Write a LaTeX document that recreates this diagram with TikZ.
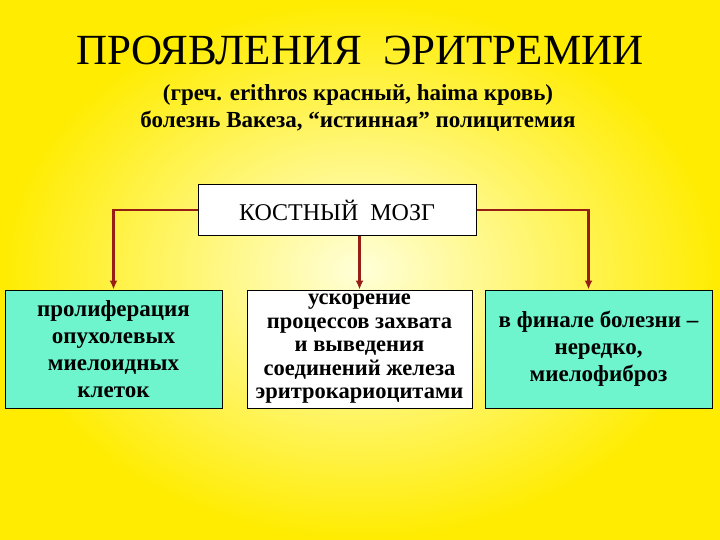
\documentclass[tikz,border=0pt]{standalone}
\usepackage{fontspec}
\setmainfont{Liberation Serif}
\usetikzlibrary{arrows.meta}
\definecolor{aquac}{RGB}{110,245,205}
\definecolor{connc}{RGB}{150,30,20}
\begin{document}
\begin{tikzpicture}[x=1pt,y=-1pt,
  conn/.style={draw=connc,line width=2.2pt,-{Latex[length=9pt,width=8pt]}},
  box/.style={draw=black,line width=1pt,align=center,font=\bfseries\fontsize{23}{27}\selectfont,inner sep=2pt},
  aqua/.style={fill=aquac}]
\shade[inner color=yellow!15!white,outer color=yellow!85!orange] (0,0) rectangle (720,540);
\useasboundingbox (0,0) rectangle (720,540);
\node[font=\fontsize{43}{45}\selectfont] (title) at (360,50) {ПРОЯВЛЕНИЯ\ \ ЭРИТРЕМИИ};
\node[font=\bfseries\fontsize{23}{27}\selectfont,align=center] (sub) at (358,108) {(греч. erithros красный, haima кровь)\\болезнь Вакеза, “истинная” полицитемия};
\node[box,fill=white,minimum width=278pt,minimum height=50pt,font=\fontsize{24}{26}\selectfont] (bm) at (337,210) {КОСТНЫЙ\ \ МОЗГ};
\node[box,aqua,minimum width=217pt,minimum height=118pt] (l) at (113.5,349) {пролиферация\\опухолевых\\миелоидных\\клеток};
\node[box,fill=white,minimum width=225pt,minimum height=118pt,font=\bfseries\fontsize{22.5}{23.5}\selectfont] (m) at (359.5,349) {ускорение\\процессов захвата\\и выведения\\соединений железа\\эритрокариоцитами};
\node[box,aqua,minimum width=227pt,minimum height=118pt] (r) at (598.5,349) {в финале болезни –\\нередко,\\миелофиброз};
\draw[conn] (bm.west) -| (l.north);
\draw[conn] (bm.south -| m.north) -- (m.north);
\draw[conn] (bm.east) -| ([xshift=-10pt]r.north);
\end{tikzpicture}
\end{document}
